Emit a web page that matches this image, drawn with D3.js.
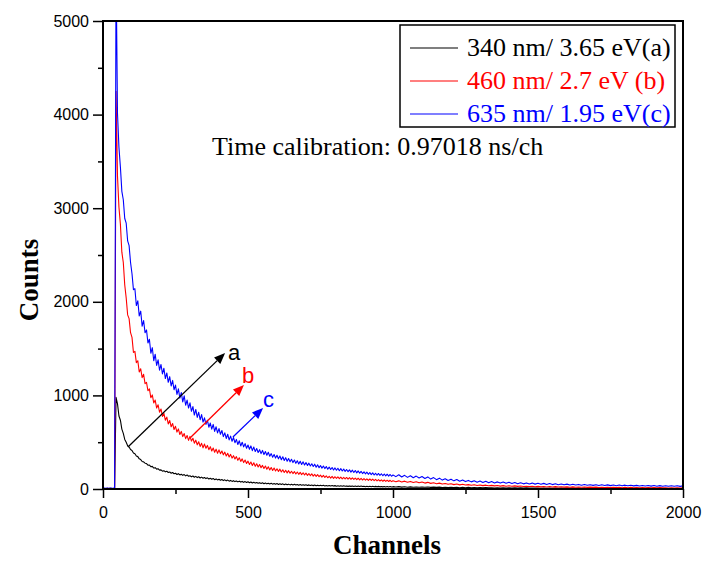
<!DOCTYPE html>
<html>
<head>
<meta charset="utf-8">
<script src="https://cdn.jsdelivr.net/npm/d3@7"></script>
<style>
  body { margin: 0; background: #fff; }
  text { font-family: "Liberation Sans", Arial, sans-serif; }
  .serif { font-family: "Liberation Serif", "Times New Roman", serif; }
</style>
</head>
<body>
<svg id="chart" width="705" height="562"></svg>
<script>
// Channel grid: every 5 channels up to 995, every 10 channels from 1000 to 2000
const channels = d3.range(0, 1000, 5).concat(d3.range(1000, 2001, 10));

// 340 nm / 3.65 eV (a)
const countsA = [
  3, 5, 4, 6, 4, 5, 3, 6, 7, 980,
  910, 780, 735, 640, 595, 530, 500, 462, 448, 422,
  412, 384, 376, 352, 346, 322, 314, 294, 290, 276,
  272, 254, 256, 238, 242, 224, 228, 212, 216, 202,
  204, 190, 196, 183, 190, 176, 182, 168, 176, 163,
  168, 155, 164, 150, 158, 146, 154, 140, 150, 136,
  142, 130, 139, 126, 135, 122, 131, 118, 127, 115,
  123, 111, 119, 107, 115, 104, 112, 100, 108, 97,
  104, 93, 101, 90, 98, 87, 95, 84, 92, 81,
  89, 79, 86, 76, 84, 74, 81, 71, 79, 69,
  77, 67, 75, 65, 72, 63, 70, 61, 68, 59,
  66, 57, 64, 55, 62, 54, 61, 52, 59, 51,
  58, 49, 56, 48, 55, 46, 53, 45, 52, 44,
  51, 43, 50, 42, 48, 41, 47, 40, 46, 39,
  45, 38, 44, 37, 43, 36, 42, 35, 41, 35,
  40, 34, 39, 33, 38, 32, 38, 32, 37, 31,
  36, 30, 35, 30, 35, 29, 34, 29, 33, 28,
  33, 28, 32, 27, 32, 27, 31, 26, 31, 26,
  30, 25, 30, 25, 29, 24, 29, 24, 28, 23,
  28, 23, 27, 23, 27, 22, 26, 22, 26, 21,
  25,
  21, 25, 20, 24, 19, 23, 19, 22, 18, 22,
  18, 21, 17, 20, 17, 20, 16, 19, 16, 18,
  15, 18, 14, 17, 14, 17, 13, 16, 13, 15,
  12, 15, 12, 14, 11, 14, 11, 13, 11, 13,
  10, 13, 10, 12, 9, 12, 9, 11, 9, 11,
  8, 11, 8, 10, 8, 10, 7, 10, 7, 9,
  7, 9, 6, 9, 6, 9, 6, 8, 6, 8,
  5, 8, 5, 8, 5, 7, 5, 7, 5, 7,
  4, 7, 4, 7, 4, 6, 4, 6, 4, 6,
  4, 6, 4, 6, 3, 6, 3, 5, 3, 5
];

// 460 nm / 2.7 eV (b)
const countsB = [
  4, 6, 5, 7, 5, 8, 6, 5, 9, 4250,
  3340, 3010, 2830, 2530, 2420, 2180, 2040, 1860, 1820, 1670,
  1620, 1460, 1470, 1350, 1370, 1250, 1285, 1190, 1225, 1125,
  1140, 1050, 1070, 975, 1005, 920, 950, 865, 900, 820,
  855, 775, 808, 735, 768, 695, 732, 665, 700, 635,
  670, 608, 642, 582, 615, 560, 592, 538, 572, 520,
  562, 512, 542, 490, 522, 472, 505, 455, 488, 440,
  480, 435, 466, 420, 452, 406, 438, 393, 426, 382,
  418, 378, 406, 365, 394, 353, 382, 342, 370, 330,
  356, 320, 346, 306, 334, 295, 322, 282, 310, 272,
  298, 262, 288, 252, 280, 242, 270, 236, 262, 228,
  252, 220, 246, 212, 238, 204, 230, 198, 224, 192,
  216, 188, 212, 182, 206, 176, 200, 172, 196, 168,
  190, 165, 186, 160, 182, 157, 178, 154, 174, 150,
  169, 146, 165, 142, 161, 138, 157, 134, 153, 131,
  148, 127, 145, 123, 140, 120, 136, 117, 134, 114,
  131, 113, 129, 111, 127, 109, 125, 107, 123, 106,
  121, 104, 119, 102, 117, 100, 115, 98, 113, 96,
  111, 94, 109, 92, 107, 91, 105, 89, 103, 87,
  100, 85, 98, 83, 96, 82, 94, 80, 93, 79,
  89,
  78, 87, 75, 84, 72, 81, 69, 78, 66, 74,
  63, 71, 60, 67, 57, 63, 53, 59, 50, 56,
  47, 53, 44, 50, 42, 47, 40, 45, 38, 43,
  36, 41, 34, 39, 33, 37, 31, 36, 30, 34,
  29, 33, 28, 32, 27, 30, 26, 29, 24, 28,
  23, 27, 22, 26, 21, 25, 21, 24, 20, 23,
  19, 23, 18, 22, 18, 21, 17, 20, 17, 20,
  16, 19, 16, 18, 15, 18, 15, 17, 14, 17,
  14, 17, 13, 16, 13, 16, 13, 15, 12, 15,
  12, 15, 12, 14, 11, 14, 11, 14, 11, 13
];

// 635 nm / 1.95 eV (c)
const countsC = [
  6, 9, 7, 10, 8, 11, 9, 8, 12, 5600,
  4010, 3650, 3440, 3180, 3090, 2890, 2840, 2650, 2600, 2420,
  2300, 2130, 2140, 1960, 2010, 1850, 1900, 1740, 1800, 1670,
  1700, 1560, 1600, 1450, 1510, 1370, 1440, 1320, 1380, 1270,
  1330, 1230, 1290, 1180, 1240, 1140, 1200, 1100, 1160, 1060,
  1110, 1010, 1070, 970, 1030, 930, 995, 895, 950, 865,
  920, 830, 880, 790, 850, 765, 820, 740, 795, 715,
  760, 690, 735, 660, 705, 640, 690, 615, 665, 600,
  645, 585, 625, 560, 600, 540, 585, 525, 565, 510,
  550, 495, 530, 475, 515, 460, 500, 450, 485, 435,
  470, 425, 460, 410, 448, 400, 432, 390, 420, 378,
  412, 368, 400, 360, 392, 350, 378, 340, 368, 330,
  360, 322, 352, 312, 344, 305, 335, 296, 326, 290,
  318, 282, 310, 274, 302, 268, 296, 262, 290, 256,
  282, 252, 276, 246, 270, 240, 265, 233, 258, 228,
  250, 223, 246, 218, 240, 212, 234, 208, 230, 203,
  225, 200, 222, 195, 218, 192, 213, 188, 208, 185,
  205, 180, 201, 177, 198, 172, 193, 170, 188, 165,
  184, 162, 180, 157, 176, 154, 172, 150, 168, 147,
  166, 145, 163, 142, 160, 140, 158, 138, 155, 136,
  150,
  132, 152, 128, 146, 124, 142, 120, 138, 117, 134,
  112, 129, 106, 122, 100, 116, 95, 110, 91, 105,
  87, 101, 83, 96, 79, 92, 76, 88, 73, 85,
  70, 82, 67, 79, 65, 76, 63, 74, 61, 72,
  59, 70, 57, 67, 55, 65, 54, 63, 52, 61,
  51, 60, 49, 58, 47, 56, 46, 54, 45, 52,
  43, 51, 42, 49, 41, 48, 40, 46, 39, 45,
  38, 45, 37, 44, 36, 43, 35, 42, 35, 41,
  34, 40, 33, 39, 32, 38, 32, 37, 31, 37,
  30, 36, 30, 35, 29, 35, 29, 34, 28, 33
];

const seriesNames = ["340 nm/ 3.65 eV(a)", "460 nm/ 2.7 eV (b)", "635 nm/ 1.95 eV(c)"];
const seriesColors = ["#000000", "#ff0000", "#0000ff"];

const xMajorTicks = [0, 500, 1000, 1500, 2000];
const xMinorTicks = [250, 750, 1250, 1750];
const yMajorTicks = [0, 1000, 2000, 3000, 4000, 5000];
const yMinorTicks = [500, 1500, 2500, 3500, 4500];

// Arrows pointing from each decay curve to its letter: [channel, count]
const arrowLabels = ["a", "b", "c"];
const arrowFrom = [[86, 449], [300, 545], [448, 556]];
const arrowTo = [[421, 1453], [486, 1111], [552, 865]];
const arrowLabelAt = [[431, 1378], [479, 1132], [552, 876]];

const calibrationText = "Time calibration: 0.97018 ns/ch";

const svg = d3.select("#chart");
const W = 705, H = 562;
const margin = { left: 103, right: 22, top: 21, bottom: 73 };
const plotW = W - margin.left - margin.right;
const plotH = H - margin.top - margin.bottom;

const x = d3.scaleLinear().domain([0, 2000]).range([margin.left, margin.left + plotW]);
const y = d3.scaleLinear().domain([0, 5000]).range([margin.top + plotH, margin.top]);

svg.append("rect").attr("width", W).attr("height", H).attr("fill", "#fff");

svg.append("defs").append("clipPath").attr("id", "plotClip")
  .append("rect")
  .attr("x", margin.left).attr("y", margin.top)
  .attr("width", plotW).attr("height", plotH);

// Decay curves
const allSeries = [countsA, countsB, countsC];
const line = d3.line()
  .x((d, i) => x(channels[i]))
  .y(d => y(d));

const curves = svg.append("g").attr("clip-path", "url(#plotClip)");
allSeries.forEach((vals, k) => {
  const n = Math.min(vals.length, channels.length);
  curves.append("path")
    .datum(vals.slice(0, n))
    .attr("fill", "none")
    .attr("stroke", seriesColors[k])
    .attr("stroke-width", 1.1)
    .attr("stroke-linejoin", "round")
    .attr("d", line);
});

// Axes
const tickFont = "16px";
const xAxisMajor = d3.axisBottom(x).tickValues(xMajorTicks).tickSize(9).tickPadding(9).tickFormat(d3.format("d"));
const xAxisMinor = d3.axisBottom(x).tickValues(xMinorTicks).tickSize(5).tickFormat("");
const yAxisMajor = d3.axisLeft(y).tickValues(yMajorTicks).tickSize(10).tickPadding(4).tickFormat(d3.format("d"));
const yAxisMinor = d3.axisLeft(y).tickValues(yMinorTicks).tickSize(5).tickFormat("");

function styleAxis(g) {
  g.select(".domain").remove();
  g.selectAll("line").attr("stroke", "#000").attr("stroke-width", 1.5);
  g.selectAll("text").attr("font-size", tickFont).attr("fill", "#000")
    .style("font-family", "'Liberation Sans', Arial, sans-serif");
}

svg.append("g").attr("transform", `translate(0,${margin.top + plotH})`).call(xAxisMajor).call(styleAxis);
svg.append("g").attr("transform", `translate(0,${margin.top + plotH})`).call(xAxisMinor).call(styleAxis);
svg.append("g").attr("transform", `translate(${margin.left},0)`).call(yAxisMajor).call(styleAxis);
svg.append("g").attr("transform", `translate(${margin.left},0)`).call(yAxisMinor).call(styleAxis);

// Frame
svg.append("rect")
  .attr("x", margin.left).attr("y", margin.top)
  .attr("width", plotW).attr("height", plotH)
  .attr("fill", "none").attr("stroke", "#000").attr("stroke-width", 2);

// Axis titles
svg.append("text")
  .attr("class", "serif")
  .attr("x", margin.left + plotW / 2 - 6).attr("y", 554)
  .attr("text-anchor", "middle")
  .attr("font-size", "27px").attr("font-weight", "bold")
  .text("Channels");

svg.append("text")
  .attr("class", "serif")
  .attr("transform", `translate(38,280) rotate(-90)`)
  .attr("text-anchor", "middle")
  .attr("font-size", "27px").attr("font-weight", "bold")
  .text("Counts");

// Calibration note
svg.append("text")
  .attr("class", "serif")
  .attr("x", 212).attr("y", 155)
  .attr("font-size", "26px")
  .text(calibrationText);

// Arrows with letters
const arrows = svg.append("g");
arrowLabels.forEach((lab, k) => {
  const x1 = x(arrowFrom[k][0]), y1 = y(arrowFrom[k][1]);
  const x2 = x(arrowTo[k][0]), y2 = y(arrowTo[k][1]);
  const ang = Math.atan2(y2 - y1, x2 - x1);
  const headLen = 11, headHalf = 4.5;
  const bx = x2 - headLen * Math.cos(ang), by = y2 - headLen * Math.sin(ang);
  arrows.append("line")
    .attr("x1", x1).attr("y1", y1).attr("x2", bx).attr("y2", by)
    .attr("stroke", seriesColors[k]).attr("stroke-width", 1.3);
  const px = -Math.sin(ang) * headHalf, py = Math.cos(ang) * headHalf;
  arrows.append("polygon")
    .attr("points", [[x2, y2], [bx + px, by + py], [bx - px, by - py]].map(p => p.join(",")).join(" "))
    .attr("fill", seriesColors[k]);
  arrows.append("text")
    .attr("x", x(arrowLabelAt[k][0])).attr("y", y(arrowLabelAt[k][1]))
    .attr("font-size", "22px").attr("fill", seriesColors[k])
    .text(lab);
});

// Legend
const legend = svg.append("g");
legend.append("rect")
  .attr("x", 400).attr("y", 25).attr("width", 275).attr("height", 102)
  .attr("fill", "#fff").attr("stroke", "#000").attr("stroke-width", 1.5);
seriesNames.forEach((name, k) => {
  const ly = 48 + k * 33;
  legend.append("line")
    .attr("x1", 410).attr("x2", 458).attr("y1", ly).attr("y2", ly)
    .attr("stroke", seriesColors[k]).attr("stroke-width", 1.2);
  legend.append("text")
    .attr("class", "serif")
    .attr("x", 467).attr("y", ly + 8)
    .attr("font-size", "26px").attr("fill", seriesColors[k])
    .text(name);
});
</script>
</body>
</html>
